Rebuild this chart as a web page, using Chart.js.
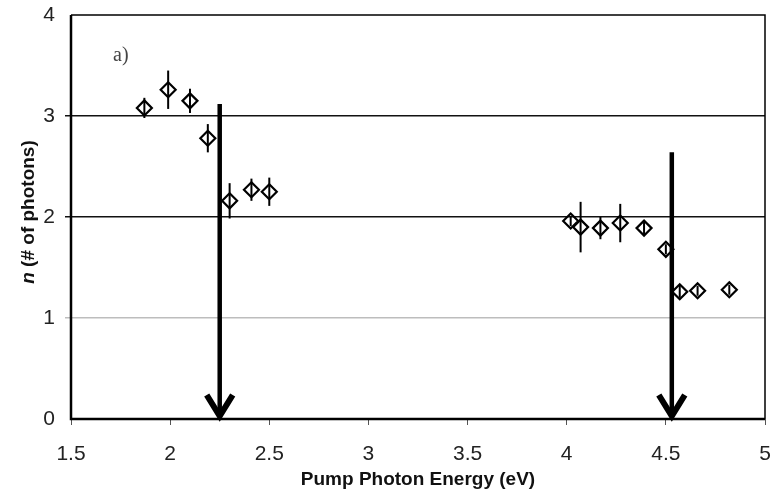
<!DOCTYPE html>
<html>
<head>
<meta charset="utf-8">
<script src="https://cdn.jsdelivr.net/npm/chart.js@4.4.1/dist/chart.umd.min.js"></script>
<style>
  html, body { margin: 0; padding: 0; background: #ffffff; }
  #wrap { width: 775px; height: 494px; position: relative; }
</style>
</head>
<body>
<div id="wrap"><canvas id="chart" width="775" height="494"></canvas></div>
<script>
// Pump photon energy (eV) for each measurement
const energies = [1.87, 1.99, 2.10, 2.19, 2.30, 2.41, 2.50, 4.02, 4.07, 4.17, 4.27, 4.39, 4.50, 4.57, 4.66, 4.82];
// Number of photons n at each energy
const photonCounts = [3.08, 3.26, 3.15, 2.78, 2.16, 2.27, 2.25, 1.96, 1.90, 1.89, 1.94, 1.89, 1.68, 1.26, 1.27, 1.28];
// Symmetric uncertainty on n
const photonErrors = [0.10, 0.19, 0.12, 0.14, 0.175, 0.11, 0.14, 0.05, 0.25, 0.11, 0.19, 0.06, 0.05, 0.06, 0.05, 0.05];
// Arrow markers: energy position and top of the shaft (n)
const arrowEnergies = [2.25, 4.53];
const arrowTops = [3.12, 2.64];
// Axis ticks
const xTicks = [1.5, 2, 2.5, 3, 3.5, 4, 4.5, 5];
const yTicks = [0, 1, 2, 3, 4];

const points = energies.map((e, i) => ({ x: e, y: photonCounts[i] }));
const SANS = '"Liberation Sans", Arial, sans-serif';

// Vertical error bars, drawn underneath the markers
const errorBars = {
  id: 'errorBars',
  beforeDatasetsDraw(chart) {
    const { ctx, scales: { x, y } } = chart;
    ctx.save();
    ctx.strokeStyle = '#000';
    ctx.lineWidth = 2;
    energies.forEach((e, i) => {
      const px = x.getPixelForValue(e);
      ctx.beginPath();
      ctx.moveTo(px, y.getPixelForValue(photonCounts[i] - photonErrors[i]));
      ctx.lineTo(px, y.getPixelForValue(photonCounts[i] + photonErrors[i]));
      ctx.stroke();
    });
    ctx.restore();
  }
};

// Frame, arrows, panel label and the y-axis title
const decorations = {
  id: 'decorations',
  afterDatasetsDraw(chart) {
    const { ctx, chartArea: a, scales: { x, y } } = chart;
    ctx.save();
    // frame
    ctx.strokeStyle = '#000';
    ctx.lineWidth = 1.5;
    ctx.beginPath();
    ctx.moveTo(a.left, a.top);
    ctx.lineTo(a.right, a.top);
    ctx.lineTo(a.right, a.bottom);
    ctx.stroke();
    ctx.lineWidth = 2.5;
    ctx.beginPath();
    ctx.moveTo(a.left, a.top);
    ctx.lineTo(a.left, a.bottom);
    ctx.lineTo(a.right, a.bottom);
    ctx.stroke();

    // downward arrows
    arrowEnergies.forEach((e, i) => {
      const px = x.getPixelForValue(e);
      const top = y.getPixelForValue(arrowTops[i]);
      const tip = y.getPixelForValue(0) + 1;
      ctx.lineWidth = 4.5;
      ctx.lineCap = 'butt';
      ctx.beginPath();
      ctx.moveTo(px, top);
      ctx.lineTo(px, tip - 4);
      ctx.stroke();
      ctx.lineWidth = 6;
      ctx.lineJoin = 'miter';
      ctx.beginPath();
      ctx.moveTo(px - 13, tip - 25);
      ctx.lineTo(px, tip - 4);
      ctx.lineTo(px + 13, tip - 25);
      ctx.stroke();
    });

    // panel label
    ctx.fillStyle = '#444';
    ctx.font = '20px "Liberation Serif", "DejaVu Serif", serif';
    ctx.textAlign = 'left';
    ctx.textBaseline = 'alphabetic';
    ctx.fillText('a)', 113, 61);

    // y-axis title: italic n followed by the unit text
    ctx.translate(29, 212);
    ctx.rotate(-Math.PI / 2);
    const italicFont = 'italic bold 19px ' + SANS;
    const plainFont = 'bold 19px ' + SANS;
    const first = 'n';
    const rest = ' (# of photons)';
    ctx.font = italicFont;
    const w1 = ctx.measureText(first).width;
    ctx.font = plainFont;
    const w2 = ctx.measureText(rest).width;
    const start = -(w1 + w2) / 2;
    ctx.fillStyle = '#111';
    ctx.textBaseline = 'middle';
    ctx.font = italicFont;
    ctx.fillText(first, start, 0);
    ctx.font = plainFont;
    ctx.fillText(rest, start + w1, 0);
    ctx.restore();
  }
};

new Chart(document.getElementById('chart'), {
  type: 'scatter',
  data: {
    datasets: [{
      data: points,
      pointStyle: 'rectRot',
      pointRadius: 7.5,
      pointHoverRadius: 7.5,
      borderColor: '#000',
      backgroundColor: 'rgba(255,255,255,0)',
      borderWidth: 2.2,
      showLine: false
    }]
  },
  options: {
    responsive: false,
    animation: false,
    devicePixelRatio: 1,
    layout: { padding: { top: 15, right: 10, left: 0, bottom: 0 } },
    plugins: {
      legend: { display: false },
      tooltip: { enabled: false }
    },
    scales: {
      x: {
        type: 'linear',
        min: 1.5,
        max: 5,
        afterFit(scale) {
          scale.height = 75;
          scale.paddingLeft = 0;
          scale.paddingRight = 0;
        },
        afterBuildTicks(scale) { scale.ticks = xTicks.map(v => ({ value: v })); },
        border: { display: false },
        grid: {
          drawOnChartArea: false,
          drawTicks: true,
          tickLength: 6,
          color: '#555',
          lineWidth: 1
        },
        ticks: {
          color: '#222',
          padding: 17,
          maxRotation: 0,
          callback: (v) => String(v),
          font: { family: SANS, size: 21 }
        },
        title: {
          display: true,
          text: 'Pump Photon Energy (eV)',
          color: '#111',
          padding: { top: 0, bottom: 3 },
          font: { family: SANS, size: 19, weight: 'bold' }
        }
      },
      y: {
        type: 'linear',
        min: 0,
        max: 4,
        afterFit(scale) {
          scale.width = 71;
          scale.paddingTop = 0;
          scale.paddingBottom = 0;
        },
        afterBuildTicks(scale) { scale.ticks = yTicks.map(v => ({ value: v })); },
        border: { display: false },
        grid: {
          drawTicks: true,
          tickLength: 6,
          color: (c) => (c.tick && c.tick.value === 1 ? '#bdbdbd' : '#111'),
          lineWidth: (c) => (c.tick && (c.tick.value === 0 || c.tick.value === 4) ? 0 : 1.5)
        },
        ticks: {
          color: '#222',
          padding: 10,
          font: { family: SANS, size: 21 }
        }
      }
    }
  },
  plugins: [errorBars, decorations]
});
</script>
</body>
</html>
